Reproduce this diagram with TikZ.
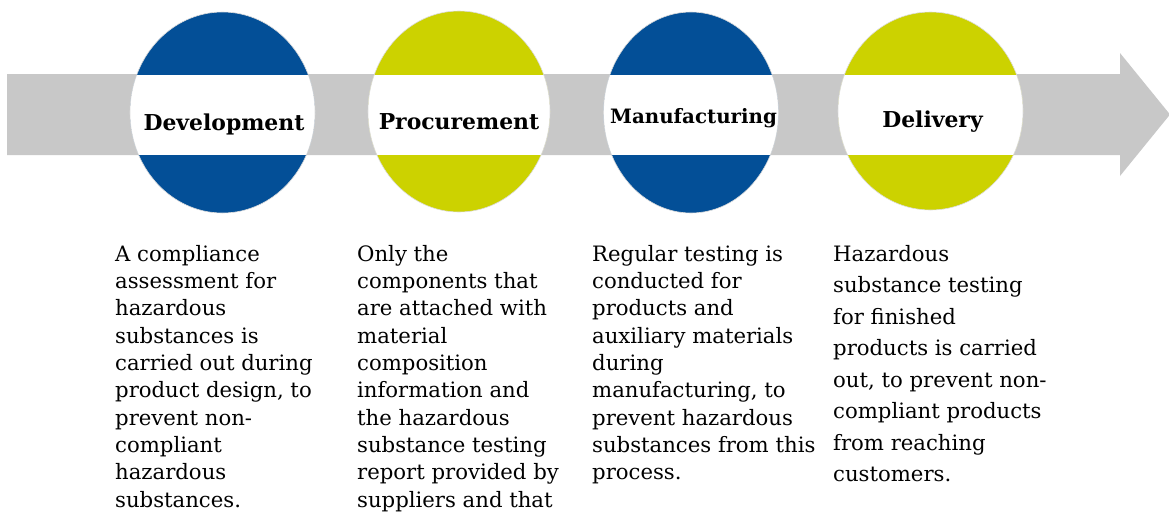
\documentclass[tikz,border=0pt]{standalone}
\usepackage{fontspec}
\setmainfont{DejaVu Serif}
\usetikzlibrary{shapes.geometric}
\definecolor{cblue}{RGB}{3,79,151}
\definecolor{cgreen}{RGB}{204,210,0}
\definecolor{cgrey}{RGB}{200,200,200}
\definecolor{cedge}{RGB}{220,220,220}
\begin{document}
\begin{tikzpicture}[x=1pt,y=-1pt,
  disc/.style={ellipse, inner sep=0pt, minimum width=185pt, minimum height=201pt,
    draw=cedge, line width=0.6pt,
    path picture={\fill[white] (bandtop) rectangle (bandbot);}},
  title/.style={font=\bfseries\fontsize{21.9}{21.9}\selectfont, anchor=base, inner sep=0pt},
  body/.style={anchor=north west, inner sep=0pt, align=left, font=\fontsize{21.2}{27.3}\selectfont}]
\useasboundingbox (0,0) rectangle (1169,512);
\coordinate (bandtop) at (0,75);
\coordinate (bandbot) at (1169,155);
% arrow
\fill[cgrey] (7,74) -- (1120,74) -- (1120,53) -- (1170,114.5) -- (1120,176) -- (1120,155) -- (7,155) -- cycle;
% discs
\node[disc, fill=cblue] (dev) at (222.5,112.5) {};
\node[disc, fill=cgreen, minimum width=182pt] (proc) at (459,111.5) {};
\node[disc, fill=cblue, minimum width=175pt] (manu) at (691,112.5) {};
\node[disc, fill=cgreen, minimum height=198pt] (deliv) at (930.5,111) {};
% titles
\node[title] (tdev) at (224,130) {Development};
\node[title] (tproc) at (459,129) {Procurement};
\node[title, font=\bfseries\fontsize{19.8}{19.8}\selectfont] (tmanu) at (693.5,123) {Manufacturing};
\node[title] (tdeliv) at (932.5,127) {Delivery};
% texts
\node[body] (b1) at (115,245) {A compliance\\assessment for\\hazardous\\substances is\\carried out during\\product design, to\\prevent non-\\compliant\\hazardous\\substances.};
\node[body] (b2) at (357,245) {Only the\\components that\\are attached with\\material\\composition\\information and\\the hazardous\\substance testing\\report provided by\\suppliers and that};
\node[body] (b3) at (592,245) {Regular testing is\\conducted for\\products and\\auxiliary materials\\during\\manufacturing, to\\prevent hazardous\\substances from this\\process.};
\node[body, font=\fontsize{21.2}{31.5}\selectfont] (b4) at (833,245) {Hazardous\\substance testing\\for finished\\products is carried\\out, to prevent non-\\compliant products\\from reaching\\customers.};
\end{tikzpicture}
\end{document}
